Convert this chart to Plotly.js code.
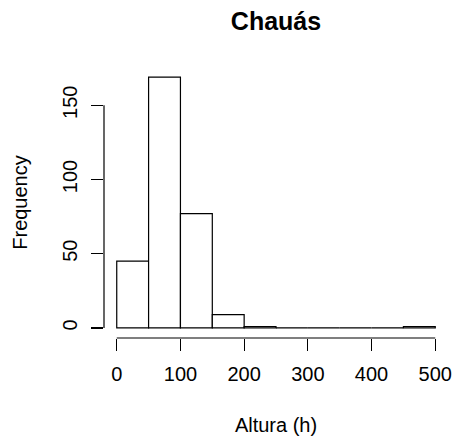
<!DOCTYPE html>
<html>
<head>
<meta charset="utf-8">
<script src="https://cdn.plot.ly/plotly-3.0.1.min.js"></script>
<style>html,body{margin:0;padding:0;background:#fff;}#chart{width:452px;height:441px;}</style>
</head>
<body>
<div id="chart"></div>
<script>
// Histogram of "Altura (h)" — bins of width 50
var binLeft = [0, 50, 100, 150, 200, 250, 300, 350, 400, 450];
var binWidth = 50;
var counts = [45, 169, 77, 9, 1, 0, 0, 0, 0, 1];
var xTicks = [0, 100, 200, 300, 400, 500];
var yTicks = [0, 50, 100, 150];
var titleText = "Chauás";
var xLabel = "Altura (h)";
var yLabel = "Frequency";

var font = "Liberation Sans, Arial, Helvetica, sans-serif";
var maxCount = Math.max.apply(null, counts);
var xMin = binLeft[0], xMax = binLeft[binLeft.length - 1] + binWidth;
var xPad = (xMax - xMin) * 0.04, yPad = maxCount * 0.04;

var trace = {
  type: "bar",
  x: binLeft,
  y: counts,
  width: binWidth,
  offset: 0,
  marker: {color: "#ffffff", line: {color: "#000000", width: 1.2}},
  hoverinfo: "x+y"
};

var layout = {
  width: 452, height: 441,
  margin: {l: 104, r: 4, t: 67, b: 103, pad: 0},
  paper_bgcolor: "#ffffff", plot_bgcolor: "#ffffff",
  font: {family: font, size: 20, color: "#000000"},
  showlegend: false,
  bargap: 0,
  title: {text: "<b>" + titleText + "</b>", font: {family: font, size: 25, color: "#000000"},
          x: 0.5, xanchor: "center", xref: "paper", y: 1 - 21 / 441, yanchor: "middle", yref: "container"},
  xaxis: {
    range: [xMin - xPad, xMax + xPad], tickvals: xTicks, ticktext: xTicks.map(String),
    ticks: "outside", ticklen: 12, tickwidth: 1.2, tickcolor: "#000000",
    showline: false, showgrid: false, zeroline: false, fixedrange: true,
    tickfont: {family: font, size: 20}, ticklabelstandoff: 6,
    title: {text: xLabel, font: {family: font, size: 20}, standoff: 33}
  },
  yaxis: {
    range: [-yPad, maxCount + yPad], tickvals: yTicks, ticktext: yTicks.map(String),
    ticks: "outside", ticklen: 12, tickwidth: 1.2, tickcolor: "#000000", tickangle: -90,
    showline: false, showgrid: false, zeroline: false, fixedrange: true,
    tickfont: {family: font, size: 20}, ticklabelstandoff: 6,
    title: {text: yLabel, font: {family: font, size: 20}, standoff: 26}
  },
  shapes: [
    {type: "line", xref: "x", yref: "paper", x0: xTicks[0], x1: xTicks[xTicks.length - 1], y0: 0, y1: 0,
     line: {color: "#000000", width: 1.2}},
    {type: "line", xref: "paper", yref: "y", x0: 0, x1: 0, y0: yTicks[0], y1: yTicks[yTicks.length - 1],
     line: {color: "#000000", width: 1.2}}
  ]
};

Plotly.newPlot("chart", [trace], layout, {displayModeBar: false, staticPlot: true});
</script>
</body>
</html>
